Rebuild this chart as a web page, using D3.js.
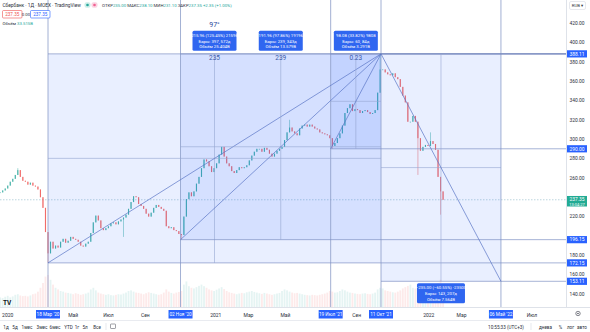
<!DOCTYPE html>
<html>
<head>
<meta charset="utf-8">
<script src="https://cdn.jsdelivr.net/npm/d3@7"></script>
<style>
  html, body { margin: 0; padding: 0; background: #fff; }
  svg { display: block; font-family: Roboto, "Noto Sans", "DejaVu Sans", sans-serif; }
</style>
</head>
<body>
<svg id="chart" width="590" height="332"></svg>
<script>
// ---- data -------------------------------------------------------------
// Sberbank daily closes, one value every 3 trading bars; bar 0 = 18 Mar 2020
const START_BAR = -57;
const BAR_STEP = 3;
const closes = [
  245, 247, 249, 252, 256, 259, 263, 268, 261, 257,
  256, 253, 255, 252, 251, 248, 240, 229, 204, 182,
  194, 187, 190, 188, 194, 197, 193, 195, 199, 197,
  196, 194, 190, 189, 192, 194, 203, 214, 221, 216,
  208, 206, 208, 210, 213, 214, 212, 215, 217, 219,
  222, 228, 235, 241, 240, 233, 231, 228, 223, 220,
  224, 229, 232, 230, 228, 226, 210, 208, 209, 206,
  205, 202, 201, 220, 238, 245, 241, 246, 254, 261,
  270, 279, 277, 272, 266, 270, 275, 284, 292, 282,
  275, 272, 267, 265, 268, 271, 270, 271, 273, 278,
  283, 287, 290, 290, 287, 291, 289, 285, 282, 285,
  288, 290, 292, 299, 307, 312, 308, 306, 304, 311,
  314, 315, 313, 315, 313, 311, 310, 307, 306, 305,
  304, 301, 293, 296, 301, 306, 314, 327, 332, 336,
  329, 331, 330, 327, 329, 330, 328, 326, 327, 330,
  348, 372, 372, 369, 367, 366, 368, 364, 362, 354,
  345, 338, 318, 318, 324, 318, 301, 288, 292, 294,
  293, 298, 295, 289, 261, 246, 237.35
];
// relative volume for the same bars
const volumes = [
  30, 28, 32, 35, 30, 33, 38, 40, 36, 34,
  35, 33, 36, 40, 42, 48, 60, 75, 95, 100,
  85, 70, 60, 55, 50, 48, 45, 44, 42, 40,
  43, 41, 38, 40, 42, 45, 55, 60, 52, 45,
  42, 40, 38, 40, 37, 36, 38, 40, 39, 42,
  45, 50, 52, 48, 45, 44, 42, 40, 43, 46,
  44, 42, 40, 38, 40, 45, 55, 48, 44, 42,
  45, 47, 50, 70, 80, 65, 60, 58, 62, 66,
  70, 65, 60, 55, 52, 50, 54, 58, 62, 56,
  50, 46, 44, 42, 40, 42, 44, 43, 46, 48,
  50, 47, 45, 43, 41, 44, 42, 40, 38, 40,
  42, 44, 50, 55, 52, 48, 45, 43, 44, 42,
  40, 38, 37, 36, 38, 37, 36, 38, 40, 42,
  45, 50, 48, 45, 46, 50, 55, 52, 48, 45,
  44, 42, 41, 40, 42, 43, 41, 40, 42, 45,
  55, 60, 58, 52, 50, 48, 46, 45, 48, 52,
  58, 62, 66, 70, 60, 58, 62, 68, 64, 55,
  52, 50, 54, 60, 75, 85, 70
];
// intraday extremes that stick out of the bodies: [sample index, price]
const wickHighs = [[7, 270], [115, 320], [151, 388.11], [171, 307]];
const wickLows = [[19, 172.15], [49, 199], [72, 196.15], [132, 290.03], [166, 263], [175, 222]];

const lastPrice = 237.35;
const priceTicks = [140, 160, 180, 200, 220, 240, 260, 280, 300, 320, 340, 360, 380, 400, 420];
const monthTicks = [
  [-48, "2020"], [30, "Май"], [72, "Июл"], [116, "Сен"], [200, "2021"], [239, "Мар"],
  [283, "Май"], [324, "Июл"], [368, "Сен"], [454, "2022"], [493, "Мар"], [577, "Июл"]
];

// date & price range measurements
const rangeStartBar = [0, 158, 337, 397];
const rangeEndBar = [397, 397, 397, 540];
const rangeFrom = [172.15, 196.15, 290.03, 388.11];
const rangeTo = [388.11, 388.11, 388.11, 153.11];
const rangeBars = [397, 239, 60, 143];
const rangeDays = [572, 343, 84, 207];
const rangeVolume = ["25.404B", "13.579B", "3.291B", "7.564B"];
const rangeTopNote = ["235", "239", "0.23", null];
const markedDates = [[0, "18 Мар '20"], [158, "02 Ноя '20"], [337, "19 Июл '21"], [397, "11 Окт '21"], [540, "06 Май '22"]];

// ---- setup ------------------------------------------------------------
const svg = d3.select("#chart");
const PLOT_R = 566, PLOT_B = 307;
const x = d3.scaleLinear().domain([0, 397]).range([48, 381]);
const y = d3.scaleLinear().domain([140, 420]).range([294, 23]);
const UP = "#26a69a", DOWN = "#ef5350", BLUE = "#2962ff";
const fmt = d3.format(".2f");

const candles = closes.map((c, i) => {
  const o = i ? closes[i - 1] : c;
  return { bar: START_BAR + i * BAR_STEP, open: o, close: c, high: Math.max(o, c), low: Math.min(o, c), vol: volumes[i] ?? 0 };
});
wickHighs.forEach(([i, v]) => { candles[i].high = Math.max(candles[i].high, v); });
wickLows.forEach(([i, v]) => { candles[i].low = Math.min(candles[i].low, v); });

const plot = svg.append("g");
plot.append("defs").append("clipPath").attr("id", "plotClip")
  .append("rect").attr("x", 0).attr("y", 0).attr("width", PLOT_R).attr("height", PLOT_B);
const g = plot.append("g").attr("clip-path", "url(#plotClip)");

// ---- volume -----------------------------------------------------------
const vH = d3.scaleLinear().domain([0, 100]).range([0, 32]);
g.append("g").selectAll("rect").data(candles).join("rect")
  .attr("x", d => x(d.bar) - 0.9)
  .attr("width", 1.8)
  .attr("y", d => PLOT_B - vH(d.vol))
  .attr("height", d => vH(d.vol))
  .attr("fill", d => d.close >= d.open ? UP : DOWN)
  .attr("opacity", 0.12);

// ---- last price line --------------------------------------------------
g.append("line")
  .attr("x1", 0).attr("x2", PLOT_R)
  .attr("y1", y(lastPrice)).attr("y2", y(lastPrice))
  .attr("stroke", "#8fb8c8").attr("stroke-width", 0.6).attr("stroke-dasharray", "1.5,1.5");

// ---- candles ----------------------------------------------------------
const cg = g.append("g").attr("opacity", 0.85);
cg.selectAll("line").data(candles).join("line")
  .attr("x1", d => x(d.bar)).attr("x2", d => x(d.bar))
  .attr("y1", d => y(d.high)).attr("y2", d => y(d.low))
  .attr("stroke", d => d.close >= d.open ? UP : DOWN)
  .attr("stroke-width", 0.5);
cg.selectAll("rect").data(candles).join("rect")
  .attr("x", d => x(d.bar) - 0.55)
  .attr("width", 1.1)
  .attr("y", d => y(Math.max(d.open, d.close)))
  .attr("height", d => Math.max(0.7, Math.abs(y(d.open) - y(d.close))))
  .attr("fill", d => d.close >= d.open ? UP : DOWN);

// ---- range measurements ----------------------------------------------
const ranges = rangeStartBar.map((s, i) => ({
  x0: x(s), x1: x(rangeEndBar[i]),
  yFrom: y(rangeFrom[i]), yTo: y(rangeTo[i]),
  from: rangeFrom[i], to: rangeTo[i],
  bars: rangeBars[i], days: rangeDays[i], vol: rangeVolume[i], note: rangeTopNote[i]
}));

const rg = g.append("g");
ranges.forEach(r => {
  const top = Math.min(r.yFrom, r.yTo), bot = Math.max(r.yFrom, r.yTo);
  rg.append("rect")
    .attr("x", r.x0).attr("y", top).attr("width", r.x1 - r.x0).attr("height", bot - top)
    .attr("fill", "rgba(41,98,255,0.1)");
});

// vertical boundary lines through the whole pane
const vLines = Array.from(new Set(ranges.flatMap(r => [r.x0, r.x1])));
rg.selectAll("line.v").data(vLines).join("line").attr("class", "v")
  .attr("x1", d => d).attr("x2", d => d).attr("y1", 0).attr("y2", PLOT_B)
  .attr("stroke", "#8a9cc8").attr("stroke-width", 0.8);

// horizontal price levels extended to the price scale
ranges.forEach(r => {
  [r.yFrom, r.yTo].forEach(yy => {
    rg.append("line")
      .attr("x1", r.x0).attr("x2", PLOT_R).attr("y1", yy).attr("y2", yy)
      .attr("stroke", "#7d91c4").attr("stroke-width", 0.8).attr("opacity", 0.85);
  });
  // centre cross lines
  const midX = (r.x0 + r.x1) / 2, midY = (r.yFrom + r.yTo) / 2;
  rg.append("line").attr("x1", midX).attr("x2", midX)
    .attr("y1", Math.min(r.yFrom, r.yTo)).attr("y2", Math.max(r.yFrom, r.yTo))
    .attr("stroke", "#95a6d2").attr("stroke-width", 0.6);
  rg.append("line").attr("x1", r.x0).attr("x2", r.x1).attr("y1", midY).attr("y2", midY)
    .attr("stroke", "#95a6d2").attr("stroke-width", 0.6);
  // diagonal from start to end
  rg.append("line").attr("x1", r.x0).attr("y1", r.yFrom).attr("x2", r.x1).attr("y2", r.yTo)
    .attr("stroke", "#5a76c6").attr("stroke-width", 0.7);
});

// ---- labels of the measurements --------------------------------------
const lg = svg.append("g");
ranges.forEach((r, i) => {
  const cx = (r.x0 + r.x1) / 2;
  const diff = r.to - r.from;
  const pct = diff / r.from * 100;
  const lines = [
    `${fmt(diff)} (${fmt(pct)}%) ${Math.round(diff * 100)}`,
    `Бары: ${r.bars}, ${r.days}д`,
    `Объём ${r.vol}`
  ];
  const bw = i === 3 ? 48 : 44, bh = 20;
  const by = diff > 0 ? Math.min(r.yFrom, r.yTo) - 3 - bh : Math.max(r.yFrom, r.yTo) + 2;
  lg.append("rect").attr("x", cx - bw / 2).attr("y", by).attr("width", bw).attr("height", bh)
    .attr("rx", 1.5).attr("fill", "#2f66f0");
  lg.selectAll(null).data(lines).join("text")
    .attr("x", cx).attr("y", (d, k) => by + 6 + k * 5.8)
    .attr("text-anchor", "middle").attr("font-size", 4.3).attr("fill", "#fff")
    .text(d => d);
  if (r.note) {
    lg.append("text").attr("x", cx).attr("y", Math.min(r.yFrom, r.yTo) + 6.5)
      .attr("text-anchor", "middle").attr("font-size", 6.5).attr("fill", "#3b5aa8")
      .text(r.note);
  }
});
lg.append("text").attr("x", (ranges[0].x0 + ranges[0].x1) / 2).attr("y", 27)
  .attr("text-anchor", "middle").attr("font-size", 7).attr("fill", "#2b4a9c").text("97°");

// ---- price scale -------------------------------------------------------
const ax = svg.append("g");
ax.append("rect").attr("x", PLOT_R).attr("y", 0).attr("width", 590 - PLOT_R).attr("height", 332).attr("fill", "#fff");
ax.append("line").attr("x1", PLOT_R + 0.5).attr("x2", PLOT_R + 0.5).attr("y1", 0).attr("y2", 320)
  .attr("stroke", "#d6dae3").attr("stroke-width", 0.8);

const marked = Array.from(new Set(ranges.flatMap(r => [r.from, r.to])));
// plain ticks give way to the highlighted price labels
const busy = marked.concat([lastPrice]).map(p => y(p));
const freeTicks = priceTicks.filter(t => busy.every(b => Math.abs(y(t) - b) > 6.5));
ax.selectAll("text.p").data(freeTicks).join("text").attr("class", "p")
  .attr("x", 577).attr("y", d => y(d) + 1.8)
  .attr("text-anchor", "middle").attr("font-size", 4.9).attr("fill", "#2a2e39")
  .text(d => fmt(d));

marked.forEach(p => {
  const label = Math.abs(p - 290.03) < 0.01 ? "290.00" : fmt(p);
  ax.append("rect").attr("x", PLOT_R + 1).attr("y", y(p) - 3.6).attr("width", 20).attr("height", 7.2)
    .attr("fill", BLUE);
  ax.append("text").attr("x", 577).attr("y", y(p) + 1.8).attr("text-anchor", "middle")
    .attr("font-size", 4.9).attr("fill", "#fff").text(label);
});
ax.append("rect").attr("x", PLOT_R + 1).attr("y", y(lastPrice) - 3.8).attr("width", 20).attr("height", 10.5)
  .attr("fill", "#22ab94");
ax.append("text").attr("x", 577).attr("y", y(lastPrice) + 1.5).attr("text-anchor", "middle")
  .attr("font-size", 4.9).attr("fill", "#fff").text(fmt(lastPrice));
ax.append("text").attr("x", 577).attr("y", y(lastPrice) + 5.8).attr("text-anchor", "middle")
  .attr("font-size", 4).attr("fill", "#fff").text("13:04:27");
// currency selector
ax.append("rect").attr("x", 569.5).attr("y", 1.5).attr("width", 16).attr("height", 8).attr("rx", 1.5)
  .attr("fill", "#fff").attr("stroke", "#d6dae3").attr("stroke-width", 0.6);
ax.append("text").attr("x", 577.5).attr("y", 7.3).attr("text-anchor", "middle")
  .attr("font-size", 4.3).attr("fill", "#2a2e39").text("RUB ▾");

// ---- time scale --------------------------------------------------------
const tx = svg.append("g");
tx.append("rect").attr("x", 0).attr("y", PLOT_B).attr("width", 590).attr("height", 332 - PLOT_B).attr("fill", "#fff");
tx.append("line").attr("x1", 0).attr("x2", 590).attr("y1", PLOT_B + 0.5).attr("y2", PLOT_B + 0.5)
  .attr("stroke", "#d6dae3").attr("stroke-width", 0.8);
tx.append("line").attr("x1", 0).attr("x2", 590).attr("y1", 320.5).attr("y2", 320.5)
  .attr("stroke", "#e3e6ec").attr("stroke-width", 0.8);
// month labels give way to the highlighted dates
const freeMonths = monthTicks.filter(([b]) => markedDates.every(([m]) => Math.abs(x(b) - x(m)) > 18));
tx.selectAll("text.m").data(freeMonths).join("text").attr("class", "m")
  .attr("x", d => x(d[0])).attr("y", 316.5)
  .attr("text-anchor", "middle").attr("font-size", 5).attr("fill", "#2a2e39")
  .text(d => d[1]);
markedDates.forEach(([b, t]) => {
  tx.append("rect").attr("x", x(b) - 12).attr("y", 310).attr("width", 24).attr("height", 8.5)
    .attr("fill", BLUE);
  tx.append("text").attr("x", x(b)).attr("y", 316.3).attr("text-anchor", "middle")
    .attr("font-size", 4.7).attr("fill", "#fff").text(t);
});
// settings gear
tx.append("circle").attr("cx", 578).attr("cy", 313.5).attr("r", 2.2)
  .attr("fill", "none").attr("stroke", "#50535e").attr("stroke-width", 0.7);
tx.append("circle").attr("cx", 578).attr("cy", 313.5).attr("r", 0.8).attr("fill", "#50535e");

// ---- bottom toolbar ---------------------------------------------------
const periods = [[6, "1д"], [15, "5д"], [27, "1мес"], [42, "3мес"], [55, "6мес"], [68.5, "YTD"], [77, "1г"], [85, "5л"], [97, "Все"]];
tx.selectAll("text.per").data(periods).join("text").attr("class", "per")
  .attr("x", d => d[0]).attr("y", 328.5).attr("text-anchor", "middle")
  .attr("font-size", 4.6).attr("fill", "#2a2e39").text(d => d[1]);
tx.append("line").attr("x1", 106).attr("x2", 106).attr("y1", 323).attr("y2", 330).attr("stroke", "#d6dae3").attr("stroke-width", 0.6);
tx.append("rect").attr("x", 110.5).attr("y", 324).attr("width", 5).attr("height", 4.5).attr("rx", 0.6)
  .attr("fill", "none").attr("stroke", "#50535e").attr("stroke-width", 0.55);
tx.append("text").attr("x", 506).attr("y", 328.5).attr("text-anchor", "middle")
  .attr("font-size", 4.6).attr("fill", "#2a2e39").text("10:55:33 (UTC+3)");
tx.append("line").attr("x1", 531).attr("x2", 531).attr("y1", 323).attr("y2", 330).attr("stroke", "#d6dae3").attr("stroke-width", 0.6);
[[545.5, "днева"], [560.5, "%"], [570.5, "лог"], [582, "авто"]].forEach(([px, t]) => {
  tx.append("text").attr("x", px).attr("y", 328.5).attr("text-anchor", "middle")
    .attr("font-size", 4.6).attr("fill", "#2a2e39").text(t);
});

// ---- header legend ----------------------------------------------------
const hd = svg.append("g");
hd.append("text").attr("x", 2.5).attr("y", 7).attr("font-size", 4.8).attr("fill", "#2a2e39")
  .text("Сбербанк · 1Д · MOEX · TradingView");
hd.append("rect").attr("x", 84.5).attr("y", 2.2).attr("width", 6).attr("height", 5.6).attr("rx", 2)
  .attr("fill", "#cdeee9");
hd.append("circle").attr("cx", 87.5).attr("cy", 5).attr("r", 1.3).attr("fill", UP);
hd.append("rect").attr("x", 91.5).attr("y", 2.2).attr("width", 6).attr("height", 5.6).attr("rx", 2)
  .attr("fill", "#fbd3e2");
hd.append("circle").attr("cx", 94.5).attr("cy", 5).attr("r", 1.3).attr("fill", "#f06292");
const ohlc = [["ОТКР", "235.00"], ["МАКС", "238.10"], ["МИН", "231.10"], ["ЗАКР", "237.35"]];
const ohlcText = hd.append("text").attr("x", 102).attr("y", 7).attr("font-size", 4.3);
ohlc.forEach(([k, v]) => {
  ohlcText.append("tspan").attr("fill", "#2a2e39").text(k);
  ohlcText.append("tspan").attr("fill", UP).text(v + " ");
});
ohlcText.append("tspan").attr("fill", UP).text("+2.35 (+1.00%)");

hd.append("rect").attr("x", 2.5).attr("y", 10.5).attr("width", 19.5).attr("height", 7.5).attr("rx", 1)
  .attr("fill", "#fff").attr("stroke", DOWN).attr("stroke-width", 0.6);
hd.append("text").attr("x", 12.25).attr("y", 15.8).attr("text-anchor", "middle").attr("font-size", 4.6)
  .attr("fill", DOWN).text(fmt(lastPrice));
hd.append("text").attr("x", 26).attr("y", 15.8).attr("text-anchor", "middle").attr("font-size", 4.3)
  .attr("fill", "#2a2e39").text("0.00");
hd.append("rect").attr("x", 30.5).attr("y", 10.5).attr("width", 19.5).attr("height", 7.5).attr("rx", 1)
  .attr("fill", "#fff").attr("stroke", BLUE).attr("stroke-width", 0.6);
hd.append("text").attr("x", 40.25).attr("y", 15.8).attr("text-anchor", "middle").attr("font-size", 4.6)
  .attr("fill", BLUE).text(fmt(lastPrice));
const volText = hd.append("text").attr("x", 2.5).attr("y", 24.5).attr("font-size", 4.3);
volText.append("tspan").attr("fill", "#2a2e39").text("Объём ");
volText.append("tspan").attr("fill", UP).text("33.515B");

// TradingView mark
svg.append("text").attr("x", 3).attr("y", 305).attr("font-size", 6.5).attr("font-weight", 700)
  .attr("fill", "#131722").text("TV");
</script>
</body>
</html>
